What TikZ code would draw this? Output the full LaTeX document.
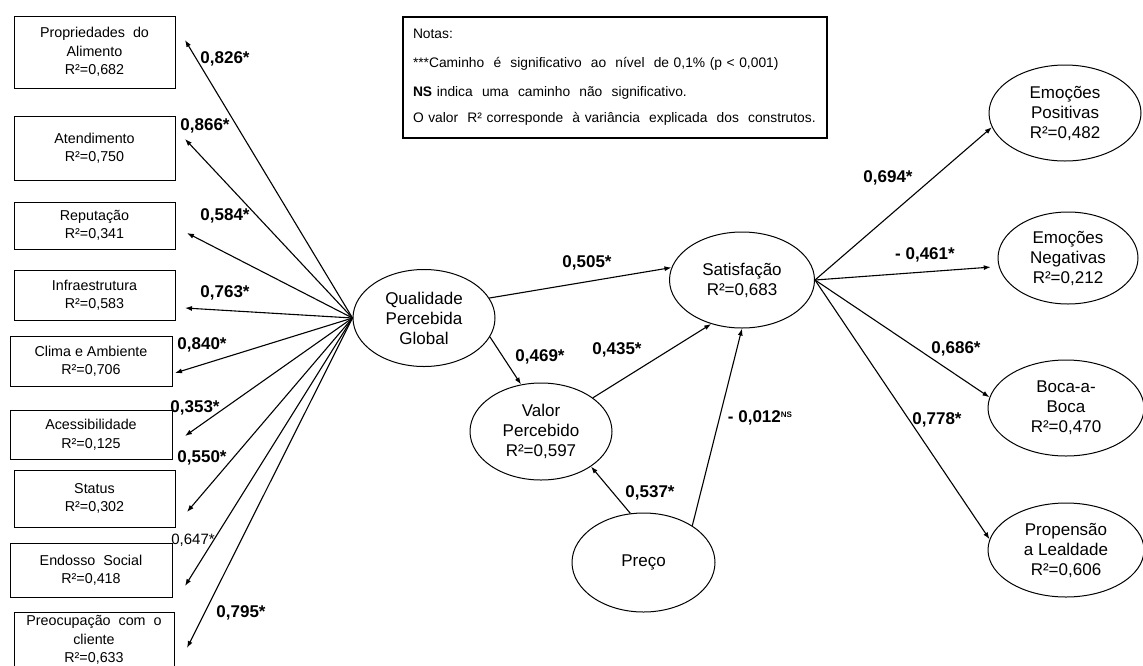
\documentclass[tikz,border=0pt]{standalone}
\usepackage{fontspec}
\setmainfont{Liberation Sans}
\usetikzlibrary{shapes.geometric}
\usetikzlibrary{arrows.meta}

\begin{document}
\begin{tikzpicture}[x=1pt,y=-1pt]
    \tikzstyle{indicator} = [draw,line width=1pt,inner sep=0pt,align=center,
                             font=\fontsize{14.3}{18.5}\selectfont]
    \tikzstyle{construct} = [ellipse,draw,line width=1pt,inner sep=0pt,align=center,
                             font=\fontsize{17}{20}\selectfont]
    \tikzstyle{coef}      = [font=\fontsize{17}{18}\selectfont\bfseries]
    \tikzstyle{edge}      = [-{Latex[length=7pt,width=5pt]},line width=1.1pt]

    \useasboundingbox (0,0) rectangle (1143,665);

    % indicadores
    \node[indicator,minimum width=161pt,minimum height=72pt] (c1) at (94.5,52)    {Propriedades\ \ do\\Alimento\\R²=0,682};
    \node[indicator,minimum width=161pt,minimum height=64pt] (c2) at (94.5,148)   {Atendimento\\R²=0,750};
    \node[indicator,minimum width=161pt,minimum height=47pt] (c3) at (94.5,225.5) {Reputação\\R²=0,341};
    \node[indicator,minimum width=161pt,minimum height=50pt] (c4) at (94.5,295)   {Infraestrutura\\R²=0,583};
    \node[indicator,minimum width=162pt,minimum height=50pt] (c5) at (91,361)     {Clima e Ambiente\\R²=0,706};
    \node[indicator,minimum width=162pt,minimum height=49pt] (c6) at (91,434.5)   {Acessibilidade\\R²=0,125};
    \node[indicator,minimum width=161pt,minimum height=57pt] (c7) at (94.5,498.5) {Status\\R²=0,302};
    \node[indicator,minimum width=162pt,minimum height=54pt] (c8) at (91,570)     {Endosso\ \ Social\\R²=0,418};
    \node[indicator,minimum width=160pt,minimum height=56pt] (c9) at (94,640)     {Preocupação\ \ com\ \ o\\cliente\\R²=0,633};

    % construtos
    \node[construct,minimum width=142pt,minimum height=97pt] (qpg)   at (424,318)     {Qualidade\\Percebida\\Global};
    \node[construct,minimum width=145pt,minimum height=96pt] (sat)   at (742,280)     {Satisfação\\R²=0,683};
    \node[construct,minimum width=142pt,minimum height=97pt] (vp)    at (541,431.5)   {Valor\\Percebido\\R²=0,597};
    \node[construct,minimum width=143pt,minimum height=99pt] (preco) at (643.5,562.5) {Preço};
    \node[construct,minimum width=152pt,minimum height=96pt] (ep)    at (1065,113)    {Emoções\\Positivas\\R²=0,482};
    \node[construct,minimum width=140pt,minimum height=92pt] (en)    at (1068,258)    {Emoções\\Negativas\\R²=0,212};
    \node[construct,minimum width=156pt,minimum height=96pt] (bab)   at (1066,408)    {Boca-a-\\Boca\\R²=0,470};
    \node[construct,minimum width=156pt,minimum height=94pt] (pl)    at (1066,550)    {Propensão\\a Lealdade\\R²=0,606};

    % notas
    \node[draw,line width=1.3pt,minimum width=424pt,minimum height=121pt,text width=404pt,
          inner xsep=10pt,align=left,font=\fontsize{13.8}{16}\selectfont] (notas) at (615,77.5)
        {Notas:\\[13pt]
         ***Caminho\ \ é\ \ significativo\ \ ao\ \ nível\ \ de 0,1\% (p < 0,001)\\[13pt]
         \textbf{NS} indica\ \ uma\ \ caminho\ \ não\ \ significativo.\\[10pt]
         O valor\ \ R² corresponde\ \ à variância\ \ explicada\ \ dos\ \ construtos.};

    % pontas das setas da esquerda
    \coordinate (h1) at (185,40);
    \coordinate (h2) at (185,139);
    \coordinate (h3) at (187,233);
    \coordinate (h4) at (185,308);
    \coordinate (h5) at (175,373);
    \coordinate (h6) at (185,436);
    \coordinate (h7) at (187,512);
    \coordinate (h8) at (185,586);
    \coordinate (h9) at (187,648);

    \foreach \i in {1,...,9}
        \draw[edge] (qpg.west) -- (h\i);

    \draw[edge] (qpg.17)   -- (sat.170);
    \draw[edge] (qpg.344)  -- (vp.113);
    \draw[edge] (vp.33)    -- (sat.235);
    \draw[edge] (preco.105) -- (vp.325);
    \draw[edge] (preco.37) -- (sat.south);

    \draw[edge] (sat.east) -- (ep.191);
    \draw[edge,shorten >=8pt] (sat.east) -- (en.187);
    \draw[edge] (sat.east) -- (bab.172);
    \draw[edge] (sat.east) -- (pl.172);

    % cargas e coeficientes
    \node[coef] (l1) at (225,59)  {0,826*};
    \node[coef] (l2) at (205,126) {0,866*};
    \node[coef] (l3) at (225,216) {0,584*};
    \node[coef] (l4) at (225,293) {0,763*};
    \node[coef] (l5) at (202,345) {0,840*};
    \node[coef] (l6) at (195,408) {0,353*};
    \node[coef] (l7) at (202,458) {0,550*};
    \node[font=\fontsize{15}{16}\selectfont] (l8) at (193,540) {0,647*};
    \node[coef] (l9) at (241,613) {0,795*};

    \node[coef] (b1) at (587,263) {0,505*};
    \node[coef] (b2) at (540,357) {0,469*};
    \node[coef] (b3) at (617,350) {0,435*};
    \node[coef] (b4) at (650,493) {0,537*};
    \node[coef] (b5) at (760,418) {- 0,012\raisebox{5pt}{\fontsize{8}{8}\selectfont NS}};

    \node[coef] (b6) at (888,178) {0,694*};
    \node[coef] (b7) at (925,255) {- 0,461*};
    \node[coef] (b8) at (956,349) {0,686*};
    \node[coef] (b9) at (937,420) {0,778*};
\end{tikzpicture}
\end{document}
